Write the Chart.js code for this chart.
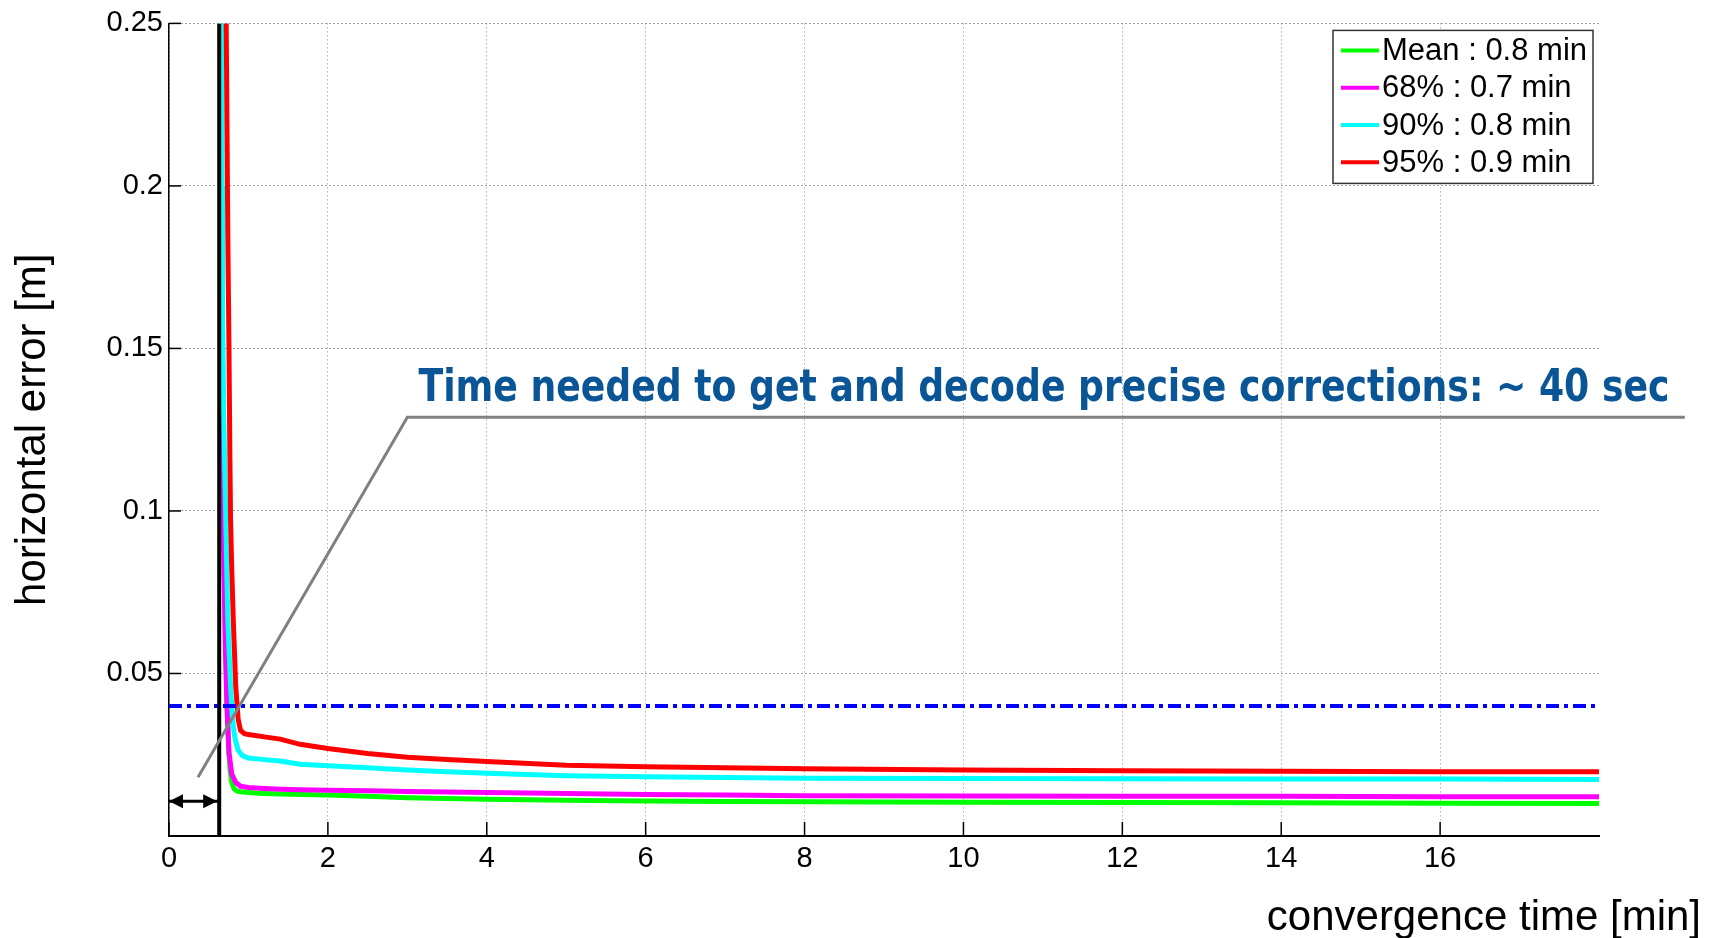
<!DOCTYPE html>
<html lang="en">
<head>
<meta charset="UTF-8">
<title>Convergence time</title>
<script src="https://cdn.jsdelivr.net/npm/chart.js"></script>
<style>
  html, body { margin: 0; padding: 0; background: #fff; }
  #wrap { width: 1717px; height: 938px; }
</style>
</head>
<body>
<div id="wrap"><canvas id="convChart" width="1717" height="938"></canvas></div>
<script>
// legend labels
const seriesNames = ['Mean : 0.8 min', '68% : 0.7 min', '90% : 0.8 min', '95% : 0.9 min'];
const seriesColors = ['#00ff00', '#ff00ff', '#00ffff', '#ff0000'];

// mean
const meanTime  = [0.662, 0.672, 0.69, 0.71, 0.73, 0.75, 0.77, 0.79, 0.82, 0.86, 0.9, 1.0, 1.2, 1.4, 1.65, 2, 2.5, 3, 3.5, 4, 5, 6, 7, 8, 10, 12, 14, 16, 18];
const meanError = [0.177, 0.13, 0.09, 0.06, 0.04, 0.027, 0.02, 0.0165, 0.0145, 0.0138, 0.0136, 0.0134, 0.0131, 0.0129, 0.0128, 0.0126, 0.0122, 0.0118, 0.0115, 0.0113, 0.011, 0.0108, 0.0106, 0.0105, 0.0104, 0.0103, 0.0102, 0.0101, 0.01];

// 68%
const p68Time  = [0.662, 0.672, 0.69, 0.71, 0.73, 0.755, 0.79, 0.84, 0.9, 1.0, 1.2, 1.4, 1.65, 2, 2.5, 3, 3.5, 4, 5, 6, 7, 8, 10, 12, 14, 16, 18];
const p68Error = [0.13, 0.115, 0.085, 0.058, 0.04, 0.0257, 0.019, 0.0165, 0.0153, 0.0149, 0.0146, 0.0144, 0.0142, 0.0141, 0.0139, 0.0137, 0.0135, 0.0134, 0.0131, 0.0128, 0.0126, 0.0124, 0.0123, 0.0122, 0.0122, 0.0121, 0.0121];

// 90%
const p90Time  = [0.655, 0.662, 0.668, 0.675, 0.69, 0.715, 0.74, 0.775, 0.8, 0.83, 0.87, 0.92, 1.0, 1.2, 1.4, 1.65, 2, 2.5, 3, 3.5, 4, 5, 6, 7, 8, 10, 12, 14, 16, 18];
const p90Error = [0.4, 0.25, 0.2, 0.16, 0.128, 0.097, 0.0666, 0.046, 0.036, 0.03, 0.0265, 0.0248, 0.024, 0.0235, 0.0231, 0.0221, 0.0216, 0.021, 0.0203, 0.0198, 0.0193, 0.0185, 0.0182, 0.018, 0.0178, 0.0177, 0.0176, 0.0175, 0.0175, 0.0174];

// 95%
const p95Time  = [0.7, 0.72, 0.74, 0.755, 0.765, 0.775, 0.79, 0.81, 0.84, 0.87, 0.9, 0.95, 1.0, 1.2, 1.4, 1.65, 2, 2.5, 3, 3.5, 4, 5, 6, 7, 8, 10, 12, 14, 16, 18];
const p95Error = [0.34, 0.25, 0.186, 0.15, 0.12, 0.097, 0.082, 0.066, 0.046, 0.036, 0.0325, 0.0315, 0.0312, 0.0305, 0.0298, 0.0282, 0.0269, 0.0254, 0.0242, 0.0235, 0.0229, 0.0218, 0.0213, 0.021, 0.0207, 0.0203, 0.0201, 0.0199, 0.0198, 0.0198];

// reference lines
const thresholdError = 0.04;     // blue dash-dot
const decodeTime = 0.632;        // black vertical line (min)
const arrowError = 0.0107;       // height of the double arrow
const calloutTime  = [0.365, 3.0, 19.08];
const calloutError = [0.0181, 0.1288, 0.1288];
const calloutText = 'Time needed to get and decode precise corrections: ~ 40 sec';
const calloutTextAt = [3.14, 0.1338];
const calloutTextWidth = 1251;   // px the sentence spans in the original

const xTitle = 'convergence time [min]';
const yTitle = 'horizontal error [m]';

const FONT = '"Liberation Sans", Arial, sans-serif';

const toPoints = (xs, ys) => xs.map((t, i) => ({ x: t, y: ys[i] }));

const curves = [
    { t: meanTime, e: meanError },
    { t: p68Time, e: p68Error },
    { t: p90Time, e: p90Error },
    { t: p95Time, e: p95Error }
];

// drawn on top first
const datasets = [
    { label: 'callout', data: toPoints(calloutTime, calloutError), borderColor: '#808080', borderWidth: 3, clip: false },
    { label: 'decode', data: [{ x: decodeTime, y: 0 }, { x: decodeTime, y: 0.25 }], borderColor: '#000', borderWidth: 4 },
    { label: 'arrow', data: [{ x: 0, y: arrowError }, { x: decodeTime, y: arrowError }], borderColor: '#000', borderWidth: 3 },
    { label: 'threshold', data: [{ x: 0, y: thresholdError }, { x: 18, y: thresholdError }], borderColor: '#0000ff', borderWidth: 4, borderDash: [13, 5, 4, 5] }
];
for (let i = curves.length - 1; i >= 0; i--) {
    datasets.push({
        label: seriesNames[i],
        data: toPoints(curves[i].t, curves[i].e),
        borderColor: seriesColors[i],
        borderWidth: 5,
        clip: 0
    });
}

const extras = {
    id: 'extras',
    beforeDatasetsDraw(chart) {
        const { ctx, chartArea: a, scales: { x, y } } = chart;
        ctx.save();
        ctx.strokeStyle = '#000';
        ctx.lineWidth = 1.5;
        x.ticks.forEach(t => {
            const px = x.getPixelForValue(t.value);
            ctx.beginPath(); ctx.moveTo(px, a.bottom); ctx.lineTo(px, a.bottom - 14); ctx.stroke();
        });
        y.ticks.forEach(t => {
            const py = y.getPixelForValue(t.value);
            ctx.beginPath(); ctx.moveTo(a.left, py); ctx.lineTo(a.left + 12, py); ctx.stroke();
        });
        ctx.restore();
    },
    afterDatasetsDraw(chart) {
        const { ctx, scales: { x, y } } = chart;
        // arrow heads
        const idx = chart.data.datasets.findIndex(d => d.label === 'arrow');
        const pts = chart.getDatasetMeta(idx).data;
        const p0 = pts[0], p1 = pts[pts.length - 1];
        ctx.save();
        ctx.fillStyle = '#000';
        ctx.beginPath();
        ctx.moveTo(p0.x, p0.y); ctx.lineTo(p0.x + 14, p0.y - 7); ctx.lineTo(p0.x + 14, p0.y + 7); ctx.closePath(); ctx.fill();
        ctx.beginPath();
        ctx.moveTo(p1.x - 2, p1.y); ctx.lineTo(p1.x - 16, p1.y - 7); ctx.lineTo(p1.x - 16, p1.y + 7); ctx.closePath(); ctx.fill();

        // callout text, squeezed to the condensed width of the original
        ctx.fillStyle = '#0a5596';
        ctx.font = 'bold 45px "Liberation Sans Narrow", "DejaVu Sans Condensed", "Liberation Sans", sans-serif';
        ctx.textAlign = 'left';
        ctx.textBaseline = 'alphabetic';
        const w = ctx.measureText(calloutText).width;
        ctx.translate(x.getPixelForValue(calloutTextAt[0]), y.getPixelForValue(calloutTextAt[1]));
        ctx.scale(calloutTextWidth / w, 1);
        ctx.fillText(calloutText, 0, 0);
        ctx.restore();
    },
    afterDraw(chart) {
        const { ctx, chartArea: a } = chart;
        ctx.save();
        // legend box
        const bw = 260, bh = 153;
        const bx = a.right - 6 - bw, by = a.top + 7;
        ctx.fillStyle = '#fff';
        ctx.fillRect(bx, by, bw, bh);
        ctx.strokeStyle = '#333';
        ctx.lineWidth = 1.5;
        ctx.strokeRect(bx, by, bw, bh);
        ctx.font = '31px ' + FONT;
        ctx.textBaseline = 'middle';
        ctx.textAlign = 'left';
        seriesNames.forEach((name, i) => {
            const ry = by + 20 + i * 37.3;
            ctx.strokeStyle = seriesColors[i];
            ctx.lineWidth = 4;
            ctx.beginPath(); ctx.moveTo(bx + 8, ry); ctx.lineTo(bx + 46, ry); ctx.stroke();
            ctx.fillStyle = '#000';
            ctx.fillText(name, bx + 49, ry + 1);
        });
        // x axis title
        ctx.font = '42px ' + FONT;
        ctx.textAlign = 'right';
        ctx.fillText(xTitle, 1701, 918);
        ctx.restore();
    }
};

new Chart(document.getElementById('convChart'), {
    type: 'line',
    data: { datasets: datasets },
    options: {
        responsive: false,
        animation: false,
        devicePixelRatio: 1,
        elements: { point: { radius: 0 }, line: { tension: 0 } },
        layout: { padding: { left: 0, top: 22, right: 118, bottom: 0 } },
        plugins: { legend: { display: false }, tooltip: { enabled: false } },
        scales: {
            x: {
                type: 'linear',
                min: 0,
                max: 18,
                afterBuildTicks: s => { s.ticks = s.ticks.filter(t => t.value < 18); },
                afterFit: s => { s.height = 102; },
                ticks: { stepSize: 2, color: '#000', font: { family: FONT, size: 29 }, padding: 6, maxRotation: 0 },
                grid: { color: '#888', lineWidth: 1, drawTicks: false },
                border: { display: true, color: '#000', width: 2, dash: [1, 3] }
            },
            y: {
                type: 'linear',
                min: 0,
                max: 0.25,
                afterFit: s => { s.width = 169; },
                ticks: {
                    stepSize: 0.05,
                    color: '#000',
                    font: { family: FONT, size: 29 },
                    padding: 6,
                    callback: v => (v === 0 ? '' : +v.toFixed(2))
                },
                grid: { color: '#444', lineWidth: 1, drawTicks: false },
                border: { display: true, color: '#000', width: 1.5, dash: [1, 3] },
                title: { display: true, text: yTitle, color: '#000', font: { family: FONT, size: 42 }, padding: { top: 8 } }
            }
        }
    },
    plugins: [extras]
});
</script>
</body>
</html>
